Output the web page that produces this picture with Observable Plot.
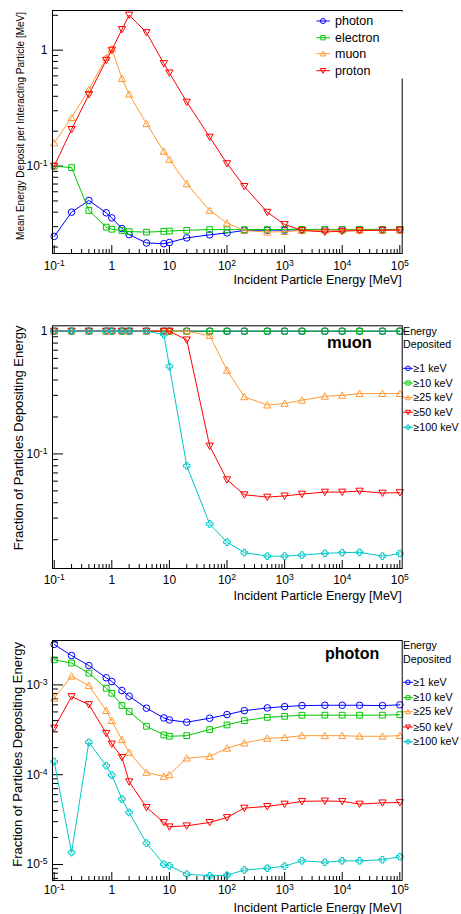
<!DOCTYPE html>
<html><head><meta charset="utf-8">
<script src="https://cdn.jsdelivr.net/npm/d3@7"></script>
<script src="https://cdn.jsdelivr.net/npm/@observablehq/plot@0.6"></script>
<style>
body{margin:0;background:#fff;}
#wrap{position:relative;width:461px;height:914px;overflow:hidden;font-family:"Liberation Sans",Arial,Helvetica,sans-serif;background:#fff;}
.pan{position:absolute;left:0;width:461px;}
.pan svg{display:block;}
</style></head><body><div id="wrap"></div>
<script>
// ---------- data ----------
const energies = [0.1,0.2,0.4,0.8,1,1.5,2,4,8,10,20,50,100,200,500,1000,2000,5000,10000,20000,50000,100000];

// Panel 1: mean energy deposit per interacting particle [MeV]
const particleNames = ["photon","electron","muon","proton"];
const depPhoton   = [0.0247,0.040,0.0505,0.0395,0.0357,0.0289,0.0256,0.0217,0.0214,0.0219,0.024,0.0255,0.0265,0.0278,0.028,0.028,0.0282,0.0282,0.0282,0.0282,0.028,0.0282];
const depElectron = [0.100,0.097,0.0414,0.0297,0.0285,0.0278,0.0272,0.0269,0.0273,0.0275,0.0279,0.0283,0.0283,0.0283,0.0283,0.0284,0.0284,0.0284,0.0284,0.0284,0.0284,0.0284];
const depMuon     = [0.158,0.262,0.457,0.865,1.03,0.569,0.417,0.232,0.134,0.114,0.0703,0.0414,0.0322,0.0278,0.0269,0.0272,0.0278,0.028,0.028,0.028,0.0279,0.028];
const depProton   = [0.100,0.207,0.414,0.82,1.0,1.51,2.01,1.42,0.767,0.637,0.357,0.178,0.105,0.0667,0.040,0.0313,0.0278,0.027,0.0274,0.0278,0.028,0.0281];

// Panel 2: muon, fraction of particles depositing energy
const thresholdNames = ["\u22651 keV","\u226510 keV","\u226525 keV","\u226550 keV","\u2265100 keV"];
const muonGe1   = [1,1,1,1,1,1,1,1,1,1,1,1,1,1,1,1,1,1,1,1,1,1];
const muonGe10  = [1,1,1,1,1,1,1,1,1,1,1,1,1,1,1,1,1,1,1,1,1,1];
const muonGe25  = [1,1,1,1,1,1,1,1,1,1,1,0.92,0.48,0.292,0.25,0.258,0.274,0.295,0.30,0.31,0.31,0.31];
const muonGe50  = [1,1,1,1,1,1,1,1,1,1,0.85,0.116,0.0616,0.0465,0.0445,0.0455,0.0471,0.0489,0.0489,0.0498,0.048,0.0484];
const muonGe100 = [1,1,1,1,1,1,1,1,0.94,0.516,0.08,0.0269,0.0191,0.0157,0.0147,0.0147,0.015,0.0155,0.0157,0.0158,0.0147,0.0154];

// Panel 3: photon, fraction of particles depositing energy
const photonGe1   = [0.00282,0.00212,0.00164,0.0012,0.00109,0.000865,0.000748,0.00055,0.000429,0.000407,0.000384,0.000425,0.000467,0.000517,0.000554,0.000573,0.000588,0.000593,0.000593,0.000593,0.000588,0.0006];
const photonGe10  = [0.0019,0.00175,0.00135,0.000918,0.000807,0.000589,0.000505,0.000346,0.000277,0.000268,0.000272,0.000318,0.000358,0.0004,0.000435,0.000447,0.000459,0.00046,0.00046,0.00046,0.00046,0.000466];
const photonGe25  = [0.00071,0.00125,0.000984,0.000518,0.0004,0.000245,0.000177,0.000106,0.0000958,0.0001,0.000153,0.00016,0.000197,0.000225,0.000254,0.000259,0.000272,0.000272,0.000272,0.000268,0.000268,0.000272];
const photonGe50  = [0.000331,0.000741,0.000604,0.000289,0.00022,0.000156,0.0000836,0.0000433,0.0000294,0.0000263,0.000027,0.0000294,0.0000334,0.0000425,0.0000443,0.0000471,0.0000505,0.000051,0.0000505,0.0000471,0.0000486,0.000049];
const photonGe100 = [0.00014,0.0000136,0.00023,0.000126,0.000099,0.0000536,0.000038,0.0000173,0.0000101,0.00000967,0.0000078,0.0000075,0.0000076,0.0000087,0.0000091,0.0000096,0.000011,0.0000106,0.000011,0.000011,0.0000113,0.0000122];

// ticks
const xTicks = [0.1,1,10,100,1000,10000,100000];
const xTickLabels = ["10^-1","1","10","10^2","10^3","10^4","10^5"];
const yTicksA = [0.1,1];
const yTickLabelsA = ["10^-1","1"];
const yTicksC = [1e-5,1e-4,1e-3];
const yTickLabelsC = ["10^-5","10^-4","10^-3"];

// ---------- styling ----------
const colors = ["#0000ff","#00c800","#ff9933","#ff0000","#00c8c8"];
function sym(fn){return {draw(c,size){fn(c,Math.sqrt(size/Math.PI));}};}
const SYM = {
  circle: sym((c,r)=>{c.moveTo(r,0);c.arc(0,0,r,0,2*Math.PI);c.closePath();}),
  square: sym((c,r)=>{const h=r*0.87;c.rect(-h,-h,2*h,2*h);}),
  triUp: sym((c,r)=>{const a=r*1.1;c.moveTo(0,-a*0.95);c.lineTo(a,a*0.8);c.lineTo(-a,a*0.8);c.closePath();}),
  triDown: sym((c,r)=>{const a=r*1.1;c.moveTo(0,a*0.95);c.lineTo(a,-a*0.8);c.lineTo(-a,-a*0.8);c.closePath();}),
  plus: sym((c,r)=>{const a=r,w=r*0.38;const p=[[-w,-a],[w,-a],[w,-w],[a,-w],[a,w],[w,w],[w,a],[-w,a],[-w,w],[-a,w],[-a,-w],[-w,-w]];c.moveTo(p[0][0],p[0][1]);for(let i=1;i<p.length;i++)c.lineTo(p[i][0],p[i][1]);c.closePath();})
};
const symList = [SYM.circle,SYM.square,SYM.triUp,SYM.triDown,SYM.plus];
const FONT = '"Liberation Sans",Arial,Helvetica,sans-serif';

const W=461, ML=52, MR=59.3;
const xDomain=[0.0934,1.1e5];

function minorTicks(dom){
  const out=[];
  for(let k=-7;k<=6;k++) for(let m=2;m<=9;m++){const v=m*Math.pow(10,k); if(v>dom[0]&&v<dom[1]) out.push(v);}
  return out;
}

function supText(svg){
  d3.select(svg).selectAll("text").each(function(){
    const t=this.textContent; const m=t.match(/^10\^(.+)$/);
    if(m){ const s=d3.select(this); s.text(""); s.append("tspan").text("10");
      s.append("tspan").attr("dy","-0.45em").attr("font-size","0.72em").text(m[1]); }
  });
}

function panel(cfg){
  const {top,height,mt,mb,yDomain,yTicks,yLabels,series} = cfg;
  const innerH = height-mt-mb, innerW = W-ML-MR;
  const marks = [
    Plot.tickX(minorTicks(xDomain),{x:d=>d, insetTop: innerH-4, stroke:"black"}),
    Plot.tickX(xTicks,{x:d=>d, insetTop: innerH-8, stroke:"black"}),
    Plot.tickY(minorTicks(yDomain),{y:d=>d, insetRight: innerW-6, stroke:"black"}),
    Plot.tickY(yTicks,{y:d=>d, insetRight: innerW-11, stroke:"black"}),
    Plot.axisX({ticks:xTicks, tickSize:0, tickPadding:cfg.xPad, tickFormat:d=>xTickLabels[xTicks.indexOf(d)], label:null, fontSize:12}),
    Plot.axisY({ticks:yTicks, tickSize:0, tickPadding:5, tickFormat:d=>yLabels[yTicks.indexOf(d)], label:null, fontSize:12}),
  ];
  series.forEach((s,i)=>{
    const rows = energies.map((e,j)=>({e, v:s.values[j]}));
    marks.push(Plot.line(rows,{x:"e",y:"v",stroke:s.color,strokeWidth:1}));
    marks.push(Plot.dot(rows,{x:"e",y:"v",stroke:s.color,symbol:s.sym,r:3.3,fill:"none",strokeWidth:1}));
  });
  marks.push(Plot.frame({stroke:"black",strokeWidth:1}));
  const svg = Plot.plot({
    width:W,height,marginLeft:ML,marginRight:MR,marginTop:mt,marginBottom:mb,
    x:{type:"log",domain:xDomain},
    y:{type:"log",domain:yDomain},
    style:{fontFamily:FONT,fontSize:"12px",background:"transparent",overflow:"visible",color:"black"},
    marks
  });
  supText(svg);
  const div=document.createElement("div");
  div.className="pan"; div.style.top=top+"px"; div.style.height=height+"px";
  div.appendChild(svg);
  document.getElementById("wrap").appendChild(div);
  const g=d3.select(svg).append("g").attr("font-family",FONT).attr("text-anchor","start").attr("fill","black");
  // axis titles
  g.append("text").attr("x",W-MR).attr("y",cfg.xTitleY).attr("text-anchor","end")
    .attr("font-size",12.5).text("Incident Particle Energy [MeV]");
  g.append("text").attr("transform",`translate(${cfg.yTitleX},${cfg.yTitleTop}) rotate(-90)`)
    .attr("text-anchor","end").attr("dy","0.35em").attr("font-size",cfg.yTitleSize).text(cfg.yTitle);
  return g;
}

function legendItem(g,x0,x1,xm,xt,y,color,symbol,label,fs,r){
  g.append("line").attr("x1",x0).attr("x2",x1).attr("y1",y).attr("y2",y).attr("stroke",color).attr("stroke-width",1);
  g.append("path").attr("d",d3.symbol(symbol,Math.PI*r*r)()).attr("transform",`translate(${xm},${y})`)
    .attr("fill","none").attr("stroke",color).attr("stroke-width",1);
  g.append("text").attr("x",xt).attr("y",y).attr("dy","0.35em").attr("text-anchor","start").attr("font-size",fs).text(label);
}

// ---------- panel 1 ----------
const g1 = panel({top:0,height:300,mt:10,mb:47,yDomain:[0.0176,2.2],yTicks:yTicksA,yLabels:yTickLabelsA,xPad:8,
  series:[depPhoton,depElectron,depMuon,depProton].map((v,i)=>({values:v,color:colors[i],sym:symList[i]})),
  xTitleY:283.5, yTitle:"Mean Energy Deposit per Interacting Particle [MeV]", yTitleSize:10, yTitleX:20, yTitleTop:12});
g1.append("rect").attr("x",314).attr("y",11.5).attr("width",92).attr("height",67).attr("fill","white");
[21,37.7,53.7,70.7].forEach((y,i)=>legendItem(g1,316.5,330,323,335,y,colors[i],symList[i],particleNames[i],12.5,2.5));

// ---------- panel 2 ----------
const g2 = panel({top:300,height:310,mt:25.3,mb:42,yDomain:[0.01166,1.106],yTicks:yTicksA,yLabels:yTickLabelsA,xPad:7,
  series:[muonGe1,muonGe10,muonGe25,muonGe50,muonGe100].map((v,i)=>({values:v,color:colors[i],sym:symList[i]})),
  xTitleY:299.5, yTitle:"Fraction of Particles Depositing Energy", yTitleSize:13, yTitleX:18, yTitleTop:25.5});
g2.append("text").attr("x",327).attr("y",48.3).attr("text-anchor","start").attr("font-size",16.5).attr("font-weight","bold").text("muon");
g2.append("text").attr("x",403).attr("y",31.7).attr("dy","0.35em").attr("text-anchor","start").attr("font-size",10.7).text("Energy");
g2.append("text").attr("x",403).attr("y",44.3).attr("dy","0.35em").attr("text-anchor","start").attr("font-size",10.7).text("Deposited");
[68.3,83,97.7,112.3,127.3].forEach((y,i)=>legendItem(g2,403,413,408,413.5,y,colors[i],symList[i],thresholdNames[i],10.7,2.3));

// ---------- panel 3 ----------
const g3 = panel({top:610,height:304,mt:30,mb:34,yDomain:[6.64e-6,3.12e-3],yTicks:yTicksC,yLabels:yTickLabelsC,xPad:5,
  series:[photonGe1,photonGe10,photonGe25,photonGe50,photonGe100].map((v,i)=>({values:v,color:colors[i],sym:symList[i]})),
  xTitleY:301.5, yTitle:"Fraction of Particles Depositing Energy", yTitleSize:13, yTitleX:17, yTitleTop:32});
g3.append("text").attr("x",325).attr("y",49.3).attr("text-anchor","start").attr("font-size",16).attr("font-weight","bold").text("photon");
g3.append("text").attr("x",403).attr("y",35.7).attr("dy","0.35em").attr("text-anchor","start").attr("font-size",10.7).text("Energy");
g3.append("text").attr("x",403).attr("y",49).attr("dy","0.35em").attr("text-anchor","start").attr("font-size",10.7).text("Deposited");
[72.3,87.7,101.7,117,131.7].forEach((y,i)=>legendItem(g3,403,413,408,413.5,y,colors[i],symList[i],thresholdNames[i],10.7,2.3));
</script></body></html>
